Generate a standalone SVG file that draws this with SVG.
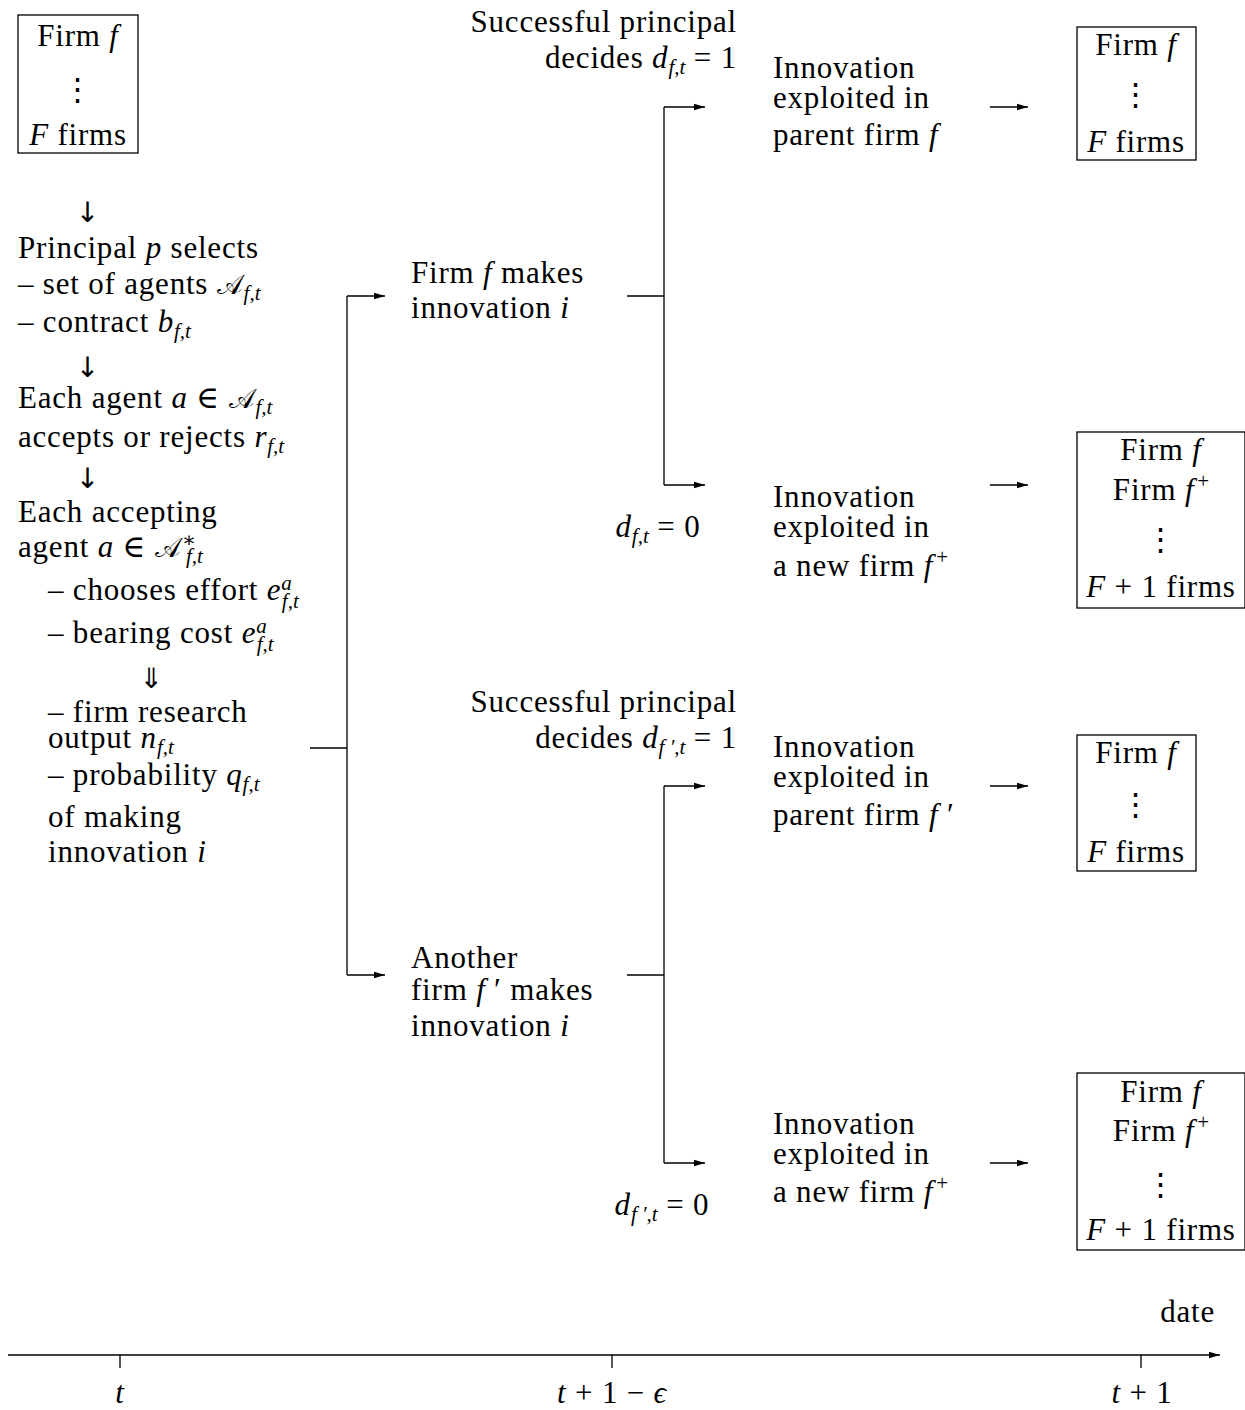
<svg xmlns="http://www.w3.org/2000/svg" width="1245" height="1410" viewBox="0 0 1245 1410">
<style>
text{font-family:"Liberation Serif","DejaVu Serif",serif;font-size:31px;fill:#000;letter-spacing:0.8px}
.i{font-style:italic}
.s{font-size:21px;letter-spacing:0}
.m{font-family:"DejaVu Serif","Noto Sans",serif;font-size:27px}
.a{font-family:"DejaVu Sans","Noto Sans",sans-serif;font-size:28px;text-anchor:middle}
.c{text-anchor:middle}
.r{text-anchor:end}
.ln{stroke:#000;stroke-width:1.3;fill:none}
.bx{stroke:#000;stroke-width:1.3;fill:#fff}
</style>
<defs>
<marker id="ah" markerWidth="12" markerHeight="8" refX="11" refY="4" orient="auto" markerUnits="userSpaceOnUse">
<path d="M0,0.8 L11,4 L0,7.2 Z" fill="#000"/>
</marker>
</defs>
<rect width="1245" height="1410" fill="#fff"/>

<g id="connectors">
<path class="ln" d="M310,748 H347 M347,296 V975"/>
<path class="ln" d="M347,296 H385" marker-end="url(#ah)"/>
<path class="ln" d="M347,975 H385" marker-end="url(#ah)"/>
<path class="ln" d="M627,296 H664 M664,107 V485"/>
<path class="ln" d="M664,107 H705" marker-end="url(#ah)"/>
<path class="ln" d="M664,485 H705" marker-end="url(#ah)"/>
<path class="ln" d="M627,975 H664 M664,786 V1163"/>
<path class="ln" d="M664,786 H705" marker-end="url(#ah)"/>
<path class="ln" d="M664,1163 H705" marker-end="url(#ah)"/>
<path class="ln" d="M990,107 H1028" marker-end="url(#ah)"/>
<path class="ln" d="M990,485 H1028" marker-end="url(#ah)"/>
<path class="ln" d="M990,786 H1028" marker-end="url(#ah)"/>
<path class="ln" d="M990,1163 H1028" marker-end="url(#ah)"/>
</g>

<g id="start-firms">
<rect class="bx" x="18" y="15" width="120" height="138"/>
<text x="78" y="46" class="c">Firm <tspan class="i">f</tspan></text>
<text x="78" y="100" class="c">⋮</text>
<text x="78" y="145" class="c"><tspan class="i">F</tspan> firms</text>
</g>

<g id="stage-t">
<text x="88" y="222" class="a">↓</text>
<text x="18" y="258">Principal <tspan class="i">p</tspan> selects</text>
<text x="18" y="294">– set of agents <tspan class="m">𝒜</tspan><tspan class="s i" dy="6">f,t</tspan></text>
<text x="18" y="332">– contract <tspan class="i">b</tspan><tspan class="s i" dy="6">f,t</tspan></text>
<text x="88" y="377" class="a">↓</text>
<text x="18" y="408">Each agent <tspan class="i">a</tspan> ∈ <tspan class="m">𝒜</tspan><tspan class="s i" dy="6">f,t</tspan></text>
<text x="18" y="447">accepts or rejects <tspan class="i">r</tspan><tspan class="s i" dy="6">f,t</tspan></text>
<text x="88" y="488" class="a">↓</text>
<text x="18" y="522">Each accepting</text>
<text x="18" y="557">agent <tspan class="i">a</tspan> ∈ <tspan class="m">𝒜</tspan><tspan class="s" dy="-10">∗</tspan><tspan class="s i" dx="-10" dy="16">f,t</tspan></text>
<text x="48" y="600">– chooses effort <tspan class="i">e</tspan><tspan class="s i" dy="-10">a</tspan><tspan class="s i" dx="-10" dy="18">f,t</tspan></text>
<text x="48" y="643">– bearing cost <tspan class="i">e</tspan><tspan class="s i" dy="-10">a</tspan><tspan class="s i" dx="-10" dy="18">f,t</tspan></text>
<text x="152" y="688" class="a">⇓</text>
<text x="48" y="722">– firm research</text>
<text x="48" y="748">output <tspan class="i">n</tspan><tspan class="s i" dy="6">f,t</tspan></text>
<text x="48" y="785">– probability <tspan class="i">q</tspan><tspan class="s i" dy="6">f,t</tspan></text>
<text x="48" y="827">of making</text>
<text x="48" y="862">innovation <tspan class="i">i</tspan></text>
</g>

<g id="firm-f-innovates">
<text x="411" y="283">Firm <tspan class="i">f</tspan> makes</text>
<text x="411" y="318">innovation <tspan class="i">i</tspan></text>
</g>

<g id="another-firm-innovates">
<text x="411" y="968">Another</text>
<text x="411" y="1000">firm <tspan class="i">f</tspan> ′ makes</text>
<text x="411" y="1036">innovation <tspan class="i">i</tspan></text>
</g>

<g id="decide1-top">
<text x="737" y="32" class="r">Successful principal</text>
<text x="737" y="68" class="r">decides <tspan class="i">d</tspan><tspan class="s i" dy="6">f,t</tspan><tspan dy="-6"> = 1</tspan></text>
</g>
<g id="decide0-top">
<text x="658" y="537" class="c"><tspan class="i">d</tspan><tspan class="s i" dy="6">f,t</tspan><tspan dy="-6"> = 0</tspan></text>
</g>
<g id="decide1-bottom">
<text x="737" y="712" class="r">Successful principal</text>
<text x="737" y="748" class="r">decides <tspan class="i">d</tspan><tspan class="s i" dy="6">f ′,t</tspan><tspan dy="-6"> = 1</tspan></text>
</g>
<g id="decide0-bottom">
<text x="662" y="1215" class="c"><tspan class="i">d</tspan><tspan class="s i" dy="6">f ′,t</tspan><tspan dy="-6"> = 0</tspan></text>
</g>

<g id="exploit-parent-f">
<text x="773" y="78">Innovation</text>
<text x="773" y="108">exploited in</text>
<text x="773" y="145">parent firm <tspan class="i">f</tspan></text>
</g>
<g id="exploit-new-f-top">
<text x="773" y="507">Innovation</text>
<text x="773" y="537">exploited in</text>
<text x="773" y="576">a new firm <tspan class="i">f</tspan><tspan class="s" dx="3" dy="-12">+</tspan></text>
</g>
<g id="exploit-parent-fp">
<text x="773" y="757">Innovation</text>
<text x="773" y="787">exploited in</text>
<text x="773" y="825">parent firm <tspan class="i">f</tspan> ′</text>
</g>
<g id="exploit-new-f-bottom">
<text x="773" y="1134">Innovation</text>
<text x="773" y="1164">exploited in</text>
<text x="773" y="1202">a new firm <tspan class="i">f</tspan><tspan class="s" dx="3" dy="-12">+</tspan></text>
</g>

<g id="result-1">
<rect class="bx" x="1077" y="27" width="119" height="133"/>
<text x="1136" y="55" class="c">Firm <tspan class="i">f</tspan></text>
<text x="1136" y="105" class="c">⋮</text>
<text x="1136" y="152" class="c"><tspan class="i">F</tspan> firms</text>
</g>
<g id="result-2">
<rect class="bx" x="1077" y="432" width="168" height="176"/>
<text x="1161" y="460" class="c">Firm <tspan class="i">f</tspan></text>
<text x="1161" y="500" class="c">Firm <tspan class="i">f</tspan><tspan class="s" dx="3" dy="-12">+</tspan></text>
<text x="1161" y="550" class="c">⋮</text>
<text x="1161" y="597" class="c"><tspan class="i">F</tspan> + 1 firms</text>
</g>
<g id="result-3">
<rect class="bx" x="1077" y="735" width="119" height="136"/>
<text x="1136" y="763" class="c">Firm <tspan class="i">f</tspan></text>
<text x="1136" y="815" class="c">⋮</text>
<text x="1136" y="862" class="c"><tspan class="i">F</tspan> firms</text>
</g>
<g id="result-4">
<rect class="bx" x="1077" y="1073" width="168" height="177"/>
<text x="1161" y="1102" class="c">Firm <tspan class="i">f</tspan></text>
<text x="1161" y="1141" class="c">Firm <tspan class="i">f</tspan><tspan class="s" dx="3" dy="-12">+</tspan></text>
<text x="1161" y="1195" class="c">⋮</text>
<text x="1161" y="1240" class="c"><tspan class="i">F</tspan> + 1 firms</text>
</g>

<g id="timeline">
<path class="ln" d="M8,1355 H1220" marker-end="url(#ah)"/>
<path class="ln" d="M120,1355 V1368 M612,1355 V1368 M1141,1355 V1368"/>
<text x="1215" y="1322" class="r">date</text>
<text x="120" y="1403" class="c i">t</text>
<text x="612" y="1403" class="c"><tspan class="i">t</tspan> + 1 − <tspan class="i">ϵ</tspan></text>
<text x="1142" y="1403" class="c"><tspan class="i">t</tspan> + 1</text>
</g>
</svg>
